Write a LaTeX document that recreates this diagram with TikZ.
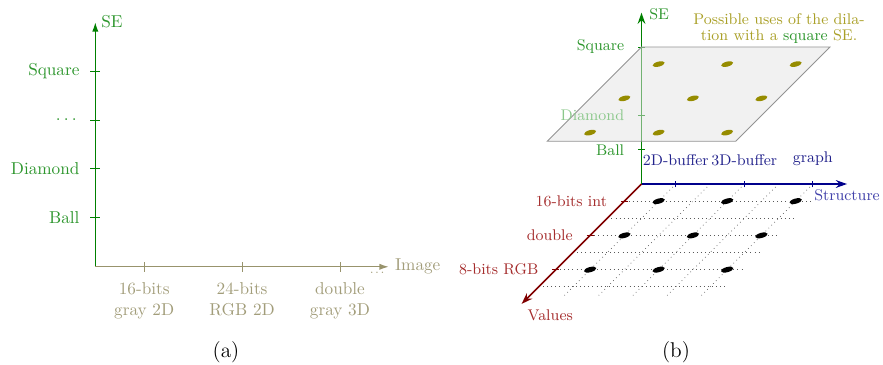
\documentclass[tikz,border=0pt]{standalone}
\usepackage{xcolor}
\usetikzlibrary{arrows.meta}
\definecolor{seaxisc}{RGB}{0,128,0}
\definecolor{selabc}{RGB}{45,150,45}
\definecolor{selabfaded}{RGB}{140,200,140}
\definecolor{imgaxisc}{RGB}{152,147,108}
\definecolor{imglabc}{RGB}{162,157,122}
\definecolor{valaxisc}{RGB}{128,0,0}
\definecolor{vallabc}{RGB}{165,45,45}
\definecolor{straxisc}{RGB}{0,0,140}
\definecolor{strlabc}{RGB}{35,35,140}
\definecolor{strnamec}{RGB}{65,65,170}
\definecolor{olivetextc}{RGB}{170,160,40}
\definecolor{olivedotc}{RGB}{150,140,0}
\definecolor{planefillc}{RGB}{228,228,228}
\newcommand{\spreaddots}{.\kern0.19em.\kern0.19em.}
\begin{document}
\begin{tikzpicture}[x=0.5814pt,y=-0.5814pt,
  axisL/.style={line width=0.8pt,-{Latex[length=5.5pt,width=3.6pt]}},
  axisR/.style={line width=1pt,-{Stealth[length=6.5pt,width=4.5pt]}},
  tickline/.style={line width=0.5pt},
  lblL/.style={text=selabc,inner sep=3.33pt},
  caption/.style={font=\fontsize{12.4}{15}\selectfont,anchor=base},
  gridl/.style={dotted,black!65,line width=0.4pt},
  planestyle/.style={fill=planefillc,fill opacity=0.5,draw=gray!85,line width=0.5pt},
  dotblack/.style={fill=black},
  dotolive/.style={fill=olivedotc}]
\useasboundingbox (0,0) rectangle (883,364);
\coordinate (O1) at (95.3,266.8);
\coordinate (O2) at (641.5,184);
\node[caption] (capa) at (226,357.5) {(a)};
\node[caption] (capb) at (676,357.5) {(b)};
\node[align=center,font=\fontsize{9}{9.3}\selectfont,text=olivetextc] (note) at (779,29)
  {Possible uses of the dila-\\tion with a \textcolor{selabc}{square} SE.};
% ---------------- panel (a)
\begin{scope}[shift={(O1)},x=1cm,y=1cm]
  \coordinate (A0) at (0,0);
  \coordinate (Atop) at (0,5);
  \coordinate (Aright) at (6,0);
  \draw[axisL,seaxisc] (A0) -- (Atop);
  \foreach \yy in {1,2,3,4} \draw[tickline,seaxisc] (-0.1,\yy) -- (0.1,\yy);
  \draw[axisL,imgaxisc] (A0) -- (Aright);
  \foreach \xx in {1,3,5} \draw[tickline,imgaxisc] (\xx,-0.1) -- (\xx,0.1);
  \node[lblL,anchor=west] (seA) at (Atop) {SE};
  \node[lblL,anchor=east] (sqA) at (-0.2,4) {Square};
  \node[lblL,anchor=east,xshift=-1.6pt] (dtA) at (-0.2,3) {\spreaddots};
  \node[lblL,anchor=east] (diA) at (-0.2,2) {Diamond};
  \node[lblL,anchor=east] (baA) at (-0.2,1) {Ball};
  \node[text=imglabc,anchor=west] (imA) at (Aright) {Image};
  \node[text=imglabc,inner sep=0pt,font=\scriptsize] (idA) at (5.76,-0.13) {.\kern0.12em.\kern0.12em.};
  \node[text=imglabc,anchor=north,align=center] (i1) at (1,-0.2) {16-bits\\gray 2D};
  \node[text=imglabc,anchor=north,align=center] (i2) at (3,-0.2) {24-bits\\RGB 2D};
  \node[text=imglabc,anchor=north,align=center] (i3) at (5,-0.2) {double\\gray 3D};
\end{scope}
% ---------------- panel (b)
\begin{scope}[shift={(O2)},x={(0.7cm,0)},y={(0,0.7cm)},z={(-0.35cm,-0.35cm)},font=\small]
  \coordinate (B0) at (0,0,0);
  \coordinate (Bse) at (0,5,0);
  \coordinate (Bstr) at (6,0,0);
  \coordinate (Bval) at (0,0,7);
  % grid
  \foreach \zz in {1,...,6} \draw[gridl] (0,0,\zz) -- (5.5,0,\zz);
  \foreach \xx in {1,...,5} \draw[gridl] (\xx,0,0) -- (\xx,0,6.5);
  % axes
  \draw[axisR,valaxisc] (B0) -- (Bval);
  \foreach \zz in {1,3,5} \draw[tickline,valaxisc] (-0.1,0,\zz) -- (0.1,0,\zz);
  \draw[axisR,straxisc] (B0) -- (Bstr);
  \foreach \xx in {1,3,5} \draw[tickline,straxisc] (\xx,-0.1,0) -- (\xx,0.1,0);
  \draw[axisR,seaxisc] (B0) -- (Bse);
  \foreach \yy in {1,2,4} \draw[tickline,seaxisc] (-0.1,\yy,0) -- (0.1,\yy,0);
  % black dots
  \foreach \xx in {1,3,5} \foreach \zz in {1,3,5}
    \fill[dotblack,rotate around={15:(\xx,0,\zz)}] (\xx,0,\zz) ellipse (3.7pt and 1.5pt);
  % labels
  \node[text=selabc,anchor=west,xshift=1pt,yshift=-1pt] (seB) at (Bse) {SE};
  \node[text=selabc,anchor=east] (sqB) at (-0.33,4,0) {Square};
  \node[text=selabc,anchor=east] (baB) at (-0.33,1,0) {Ball};
  \node[text=strlabc,anchor=south] (s1) at (1,0.35,0) {2D-buffer};
  \node[text=strlabc,anchor=south] (s2) at (3,0.35,0) {3D-buffer};
  \node[text=strlabc,anchor=south] (s3) at (5,0.35,0) {graph};
  \node[text=strnamec,anchor=north] (stB) at (Bstr) {Structure};
  \node[text=vallabc,anchor=east] (v1) at (-0.33,0,1) {16-bits int};
  \node[text=vallabc,anchor=east] (v2) at (-0.33,0,3) {double};
  \node[text=vallabc,anchor=east] (v3) at (-0.33,0,5) {8-bits RGB};
  \node[text=vallabc,anchor=north west] (vaB) at (Bval) {Values};
  % plane
  \filldraw[planestyle] (0,4,0) -- (5.5,4,0) -- (5.5,4,5.5) -- (0,4,5.5) -- cycle;
  \node[text=selabfaded,anchor=east] (diB) at (-0.33,2,0) {Diamond};
  \foreach \xx in {1,3,5} \foreach \zz in {1,3,5}
    \fill[dotolive,rotate around={15:(\xx,4,\zz)}] (\xx,4,\zz) ellipse (3.6pt and 1.45pt);
\end{scope}
\end{tikzpicture}
\end{document}
